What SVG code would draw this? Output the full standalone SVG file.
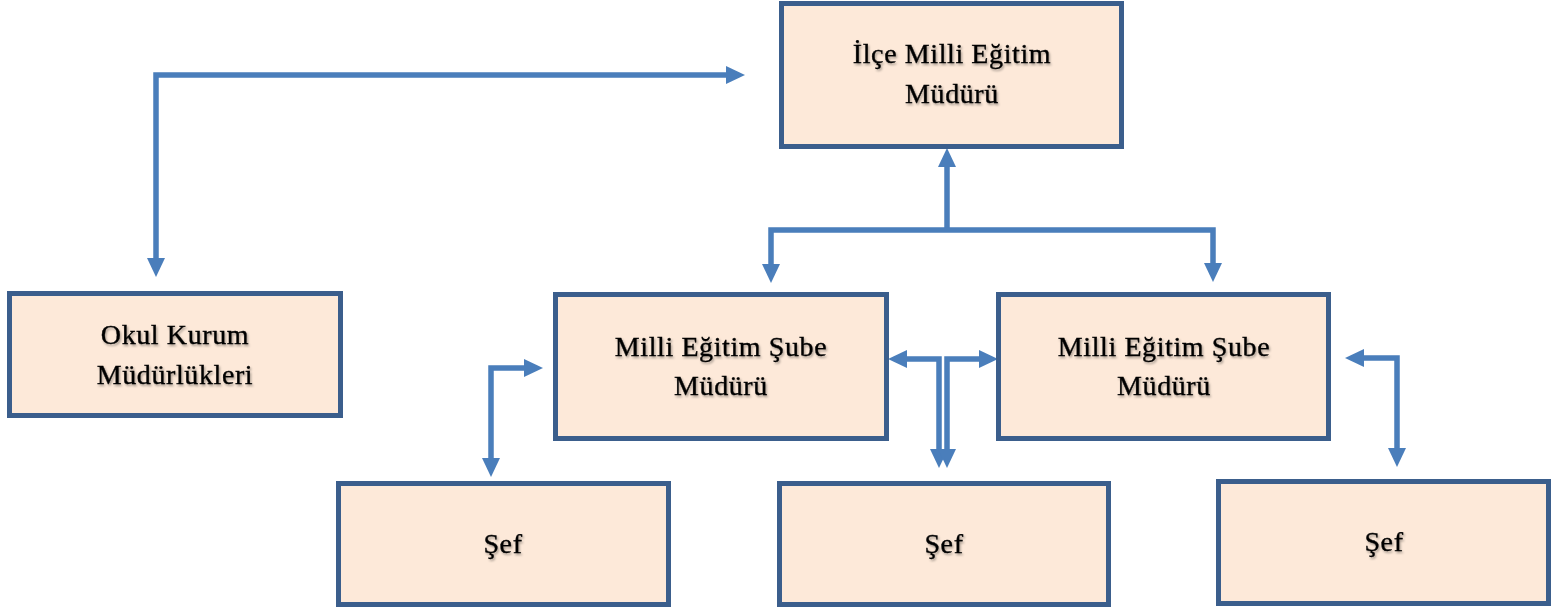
<svg xmlns="http://www.w3.org/2000/svg" width="1551" height="614" viewBox="0 0 1551 614">
<style>
  .box { fill: #FDE9D9; stroke: #3B5E8C; stroke-width: 5; }
  .lbl { font-family: "Liberation Serif", "Times New Roman", serif; font-size: 28px; letter-spacing: 0.6px; fill: #000; stroke: #000; stroke-width: 0.35px; text-anchor: middle; filter: url(#ts); }
  .con { fill: none; stroke: #4A7EBB; stroke-width: 5.5; marker-end: url(#ah); }
  .both { marker-start: url(#ah); }
</style>
<defs>
  <filter id="ts" x="-10%" y="-30%" width="120%" height="160%">
    <feDropShadow dx="1.2" dy="1.8" stdDeviation="1" flood-color="#000" flood-opacity="0.35"/>
  </filter>
  <marker id="ah" markerUnits="userSpaceOnUse" markerWidth="20" markerHeight="18" refX="0" refY="9" orient="auto-start-reverse" overflow="visible">
    <path d="M0,0 L19,9 L0,18 z" fill="#4A7EBB"/>
  </marker>
</defs>
<rect width="1551" height="614" fill="#fff"/>

<g id="connectors">
  <path class="con both" d="M726,75 L156,75 L156,258"/>
  <path class="con" d="M947,230 L947,167"/>
  <path class="con both" d="M771,264 L771,230 L1213,230 L1213,263"/>
  <path class="con both" d="M524,368 L491,368 L491,458"/>
  <path class="con both" d="M907,359 L939,359 L939,449"/>
  <path class="con both" d="M979,359 L947,359 L947,449"/>
  <path class="con both" d="M1364,358 L1397,358 L1397,448"/>
</g>

<g id="ilce">
  <rect class="box" x="781.5" y="3.5" width="340" height="143"/>
  <text class="lbl" x="952" y="63">İlçe Milli Eğitim</text>
  <text class="lbl" x="952" y="103">Müdürü</text>
</g>
<g id="okul">
  <rect class="box" x="9.5" y="293.5" width="331" height="122"/>
  <text class="lbl" x="175" y="344">Okul Kurum</text>
  <text class="lbl" x="175" y="384">Müdürlükleri</text>
</g>
<g id="sube1">
  <rect class="box" x="555.5" y="294.5" width="331" height="144"/>
  <text class="lbl" x="721" y="356">Milli Eğitim Şube</text>
  <text class="lbl" x="721" y="395">Müdürü</text>
</g>
<g id="sube2">
  <rect class="box" x="998.5" y="294.5" width="330" height="144"/>
  <text class="lbl" x="1164" y="356">Milli Eğitim Şube</text>
  <text class="lbl" x="1164" y="395">Müdürü</text>
</g>
<g id="sef1">
  <rect class="box" x="338.5" y="483.5" width="330" height="121"/>
  <text class="lbl" x="503" y="553">Şef</text>
</g>
<g id="sef2">
  <rect class="box" x="779.5" y="483.5" width="329" height="121"/>
  <text class="lbl" x="944" y="553">Şef</text>
</g>
<g id="sef3">
  <rect class="box" x="1218.5" y="481.5" width="330" height="122"/>
  <text class="lbl" x="1384" y="551">Şef</text>
</g>
</svg>
